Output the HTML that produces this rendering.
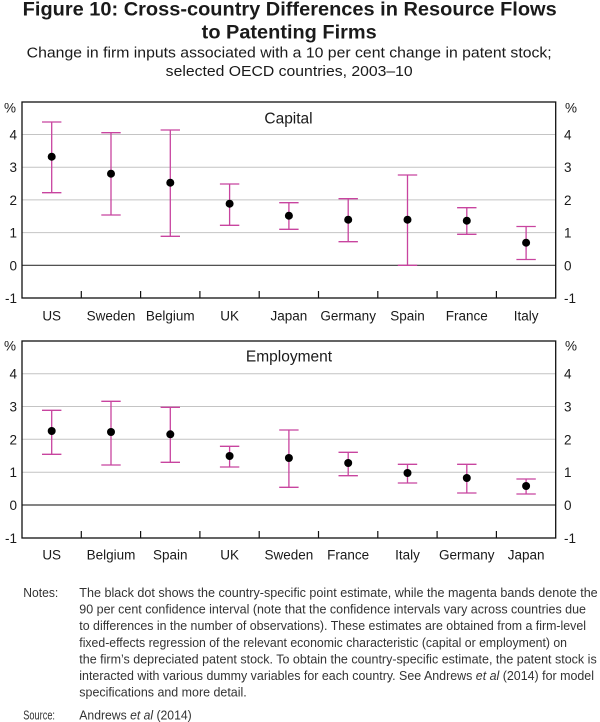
<!DOCTYPE html>
<html>
<head>
<meta charset="utf-8">
<style>
  html,body{margin:0;padding:0;background:#fff;}
  svg{display:block;}
  text{font-family:"Liberation Sans",Arial,sans-serif;}
</style>
</head>
<body>
<svg width="600" height="722" viewBox="0 0 600 722" xmlns="http://www.w3.org/2000/svg">
  <rect width="600" height="722" fill="#fff"/>
  <!-- Title -->
  <text x="289.7" y="15.5" text-anchor="middle" font-size="19" font-weight="bold" fill="#1a1a1a" textLength="534" lengthAdjust="spacingAndGlyphs">Figure 10: Cross-country Differences in Resource Flows</text>
  <text x="289.2" y="38.5" text-anchor="middle" font-size="19" font-weight="bold" fill="#1a1a1a" textLength="175" lengthAdjust="spacingAndGlyphs">to Patenting Firms</text>
  <text x="289.2" y="57.5" text-anchor="middle" font-size="14.5" fill="#1a1a1a" textLength="525" lengthAdjust="spacingAndGlyphs">Change in firm inputs associated with a 10 per cent change in patent stock;</text>
  <text x="289.2" y="76" text-anchor="middle" font-size="14.5" fill="#1a1a1a" textLength="247" lengthAdjust="spacingAndGlyphs">selected OECD countries, 2003–10</text>

  <!-- ========== Panel 1: Capital ========== -->
  <g>
    <g stroke="#c4c4c4" stroke-width="1">
      <line x1="22" y1="134.5" x2="556" y2="134.5"/>
      <line x1="22" y1="167.2" x2="556" y2="167.2"/>
      <line x1="22" y1="199.9" x2="556" y2="199.9"/>
      <line x1="22" y1="232.6" x2="556" y2="232.6"/>
    </g>
    <line x1="22" y1="265.3" x2="556" y2="265.3" stroke="#3a3a3a" stroke-width="1.2"/>
    <rect x="22" y="102" width="533.7" height="196" fill="none" stroke="#111" stroke-width="1.3"/>
    <g stroke="#111" stroke-width="1.2">
      <line x1="81.3" y1="291" x2="81.3" y2="298"/>
      <line x1="140.6" y1="291" x2="140.6" y2="298"/>
      <line x1="199.9" y1="291" x2="199.9" y2="298"/>
      <line x1="259.2" y1="291" x2="259.2" y2="298"/>
      <line x1="318.5" y1="291" x2="318.5" y2="298"/>
      <line x1="377.8" y1="291" x2="377.8" y2="298"/>
      <line x1="437.1" y1="291" x2="437.1" y2="298"/>
      <line x1="496.4" y1="291" x2="496.4" y2="298"/>
    </g>
    <g font-size="13.5" fill="#1a1a1a">
      <text x="4" y="112.5">%</text>
      <text x="565" y="112.5">%</text>
      <g text-anchor="end">
        <text x="17" y="139.5">4</text>
        <text x="17" y="172.2">3</text>
        <text x="17" y="204.9">2</text>
        <text x="17" y="237.6">1</text>
        <text x="17" y="270.3">0</text>
        <text x="17" y="303">-1</text>
      </g>
      <text x="564" y="139.5">4</text>
      <text x="564" y="172.2">3</text>
      <text x="564" y="204.9">2</text>
      <text x="564" y="237.6">1</text>
      <text x="564" y="270.3">0</text>
      <text x="564" y="303">-1</text>
    </g>
    <text x="288.5" y="123.3" text-anchor="middle" font-size="15.5" fill="#1a1a1a">Capital</text>
    <g font-size="13.5" fill="#1a1a1a" text-anchor="middle">
      <text x="51.7" y="320.5">US</text>
      <text x="111" y="320.5">Sweden</text>
      <text x="170.3" y="320.5">Belgium</text>
      <text x="229.6" y="320.5">UK</text>
      <text x="288.9" y="320.5">Japan</text>
      <text x="348.2" y="320.5">Germany</text>
      <text x="407.5" y="320.5">Spain</text>
      <text x="466.8" y="320.5">France</text>
      <text x="526.1" y="320.5">Italy</text>
    </g>
    <g stroke="#c8449f" stroke-width="1.3" fill="none">
      <path d="M51.7 122V192.7M42 122H61.4M42 192.7H61.4"/>
      <path d="M111 132.7V215M101.3 132.7H120.7M101.3 215H120.7"/>
      <path d="M170.3 130V236.3M160.6 130H180M160.6 236.3H180"/>
      <path d="M229.6 184V225.3M219.9 184H239.3M219.9 225.3H239.3"/>
      <path d="M288.9 202.7V229.3M279.2 202.7H298.6M279.2 229.3H298.6"/>
      <path d="M348.2 198.7V241.7M338.5 198.7H357.9M338.5 241.7H357.9"/>
      <path d="M407.5 175V265.3M397.8 175H417.2M397.8 265.3H417.2"/>
      <path d="M466.8 207.7V234.3M457.1 207.7H476.5M457.1 234.3H476.5"/>
      <path d="M526.1 226.5V259.5M516.4 226.5H535.8M516.4 259.5H535.8"/>
    </g>
    <g fill="#000">
      <circle cx="51.7" cy="156.7" r="4"/>
      <circle cx="111" cy="173.7" r="4"/>
      <circle cx="170.3" cy="182.7" r="4"/>
      <circle cx="229.6" cy="203.7" r="4"/>
      <circle cx="288.9" cy="215.7" r="4"/>
      <circle cx="348.2" cy="219.7" r="4"/>
      <circle cx="407.5" cy="219.7" r="4"/>
      <circle cx="466.8" cy="220.7" r="4"/>
      <circle cx="526.1" cy="242.7" r="4"/>
    </g>
  </g>

  <!-- ========== Panel 2: Employment ========== -->
  <g>
    <g stroke="#c4c4c4" stroke-width="1">
      <line x1="22" y1="373.7" x2="556" y2="373.7"/>
      <line x1="22" y1="406.5" x2="556" y2="406.5"/>
      <line x1="22" y1="439.3" x2="556" y2="439.3"/>
      <line x1="22" y1="472.2" x2="556" y2="472.2"/>
    </g>
    <line x1="22" y1="505" x2="556" y2="505" stroke="#3a3a3a" stroke-width="1.2"/>
    <rect x="22" y="341" width="533.7" height="197" fill="none" stroke="#111" stroke-width="1.3"/>
    <g stroke="#111" stroke-width="1.2">
      <line x1="81.3" y1="531" x2="81.3" y2="538"/>
      <line x1="140.6" y1="531" x2="140.6" y2="538"/>
      <line x1="199.9" y1="531" x2="199.9" y2="538"/>
      <line x1="259.2" y1="531" x2="259.2" y2="538"/>
      <line x1="318.5" y1="531" x2="318.5" y2="538"/>
      <line x1="377.8" y1="531" x2="377.8" y2="538"/>
      <line x1="437.1" y1="531" x2="437.1" y2="538"/>
      <line x1="496.4" y1="531" x2="496.4" y2="538"/>
    </g>
    <g font-size="13.5" fill="#1a1a1a">
      <text x="4" y="350.5">%</text>
      <text x="565" y="350.5">%</text>
      <g text-anchor="end">
        <text x="17" y="378.7">4</text>
        <text x="17" y="411.5">3</text>
        <text x="17" y="444.3">2</text>
        <text x="17" y="477.2">1</text>
        <text x="17" y="510">0</text>
        <text x="17" y="543">-1</text>
      </g>
      <text x="564" y="378.7">4</text>
      <text x="564" y="411.5">3</text>
      <text x="564" y="444.3">2</text>
      <text x="564" y="477.2">1</text>
      <text x="564" y="510">0</text>
      <text x="564" y="543">-1</text>
    </g>
    <text x="289" y="361.7" text-anchor="middle" font-size="15.5" fill="#1a1a1a">Employment</text>
    <g font-size="13.5" fill="#1a1a1a" text-anchor="middle">
      <text x="51.7" y="559.5">US</text>
      <text x="111" y="559.5">Belgium</text>
      <text x="170.3" y="559.5">Spain</text>
      <text x="229.6" y="559.5">UK</text>
      <text x="288.9" y="559.5">Sweden</text>
      <text x="348.2" y="559.5">France</text>
      <text x="407.5" y="559.5">Italy</text>
      <text x="466.8" y="559.5">Germany</text>
      <text x="526.1" y="559.5">Japan</text>
    </g>
    <g stroke="#c8449f" stroke-width="1.3" fill="none">
      <path d="M51.7 410.3V454.3M42 410.3H61.4M42 454.3H61.4"/>
      <path d="M111 401.3V465M101.3 401.3H120.7M101.3 465H120.7"/>
      <path d="M170.3 407.3V462.3M160.6 407.3H180M160.6 462.3H180"/>
      <path d="M229.6 446.3V467M219.9 446.3H239.3M219.9 467H239.3"/>
      <path d="M288.9 430V487.3M279.2 430H298.6M279.2 487.3H298.6"/>
      <path d="M348.2 452.3V475.7M338.5 452.3H357.9M338.5 475.7H357.9"/>
      <path d="M407.5 464.3V483M397.8 464.3H417.2M397.8 483H417.2"/>
      <path d="M466.8 464.3V493M457.1 464.3H476.5M457.1 493H476.5"/>
      <path d="M526.1 479V494M516.4 479H535.8M516.4 494H535.8"/>
    </g>
    <g fill="#000">
      <circle cx="51.7" cy="431" r="4"/>
      <circle cx="111" cy="432" r="4"/>
      <circle cx="170.3" cy="434.3" r="4"/>
      <circle cx="229.6" cy="456" r="4"/>
      <circle cx="288.9" cy="458" r="4"/>
      <circle cx="348.2" cy="463" r="4"/>
      <circle cx="407.5" cy="473" r="4"/>
      <circle cx="466.8" cy="478" r="4"/>
      <circle cx="526.1" cy="486" r="4"/>
    </g>
  </g>

  <!-- Notes -->
  <g font-size="12.5" fill="#333">
    <text x="23.3" y="597" textLength="35" lengthAdjust="spacingAndGlyphs">Notes:</text>
    <text x="79.3" y="597" textLength="518.4" lengthAdjust="spacingAndGlyphs">The black dot shows the country-specific point estimate, while the magenta bands denote the</text>
    <text x="79.3" y="613.6" textLength="506.7" lengthAdjust="spacingAndGlyphs">90 per cent confidence interval (note that the confidence intervals vary across countries due</text>
    <text x="79.3" y="630.2" textLength="506.7" lengthAdjust="spacingAndGlyphs">to differences in the number of observations). These estimates are obtained from a firm-level</text>
    <text x="79.3" y="646.8" textLength="487.7" lengthAdjust="spacingAndGlyphs">fixed-effects regression of the relevant economic characteristic (capital or employment) on</text>
    <text x="79.3" y="663.4" textLength="517.4" lengthAdjust="spacingAndGlyphs">the firm’s depreciated patent stock. To obtain the country-specific estimate, the patent stock is</text>
    <text x="79.3" y="680" textLength="514.7" lengthAdjust="spacingAndGlyphs">interacted with various dummy variables for each country. See Andrews <tspan font-style="italic">et al</tspan> (2014) for model</text>
    <text x="79.3" y="696.6" textLength="167.4" lengthAdjust="spacingAndGlyphs">specifications and more detail.</text>
    <text x="23.3" y="719.5" textLength="31.7" lengthAdjust="spacingAndGlyphs">Source:</text>
    <text x="79.3" y="719.5" textLength="112.4" lengthAdjust="spacingAndGlyphs">Andrews <tspan font-style="italic">et al</tspan> (2014)</text>
  </g>
</svg>
</body>
</html>
